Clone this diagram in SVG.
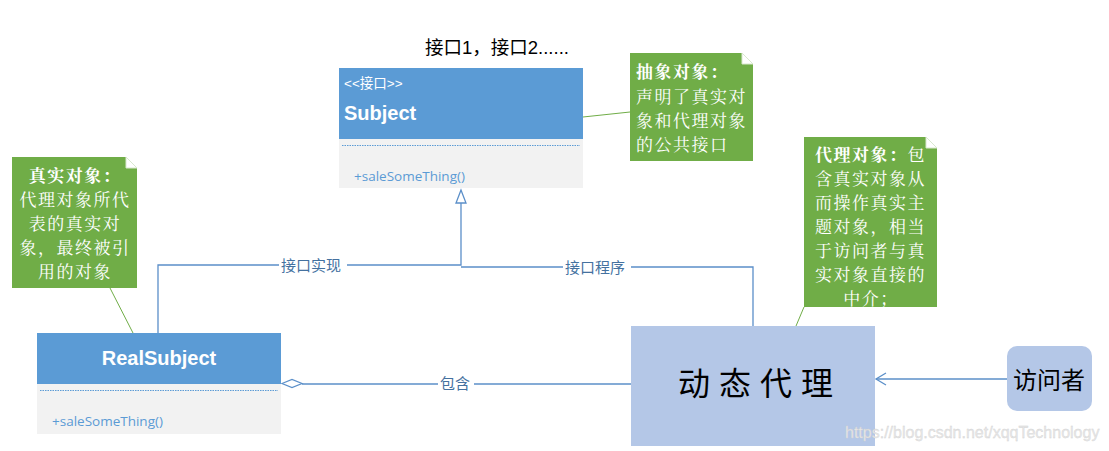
<svg xmlns="http://www.w3.org/2000/svg" width="1109" height="451" viewBox="0 0 1109 451">
<style>
.hdr{fill:#5b9bd5}
.body{fill:#f2f2f2}
.dot{stroke:#5b9bd5;stroke-width:1;stroke-dasharray:1.5 1;fill:none}
.meth{font-family:"Open Sans","Liberation Sans",sans-serif;font-size:13.5px;fill:#5b9bd5}
.wt{fill:#fff;font-family:"Liberation Sans","Noto Sans CJK SC",sans-serif}
.note{fill:#70ad47}
.fold{fill:#fff;stroke:#d9e8cf;stroke-width:1}
.ntxt{font-family:"Noto Serif CJK SC","Noto Sans CJK SC",serif;font-size:17px;letter-spacing:1.5px;fill:#fff}
.conn{stroke:#5b8fc9;stroke-width:1.3;fill:none}
.lbl{font-family:"Noto Sans CJK SC",sans-serif;font-size:15px;fill:#44719f}
.gl{stroke:#70ad47;stroke-width:1;fill:none}
.proxy{fill:#b4c7e7}
</style>
<rect width="1109" height="451" fill="#fff"/>
<text x="425" y="54" font-family="Liberation Sans,Noto Sans CJK SC,sans-serif" font-size="18.5" fill="#000">接口1，接口2......</text>

<g id="connectors">
<polyline class="conn" points="158,333 158,265 461,265 461,203"/>
<polyline class="conn" points="753,326 753,267 461,267"/>
<polygon points="461,190 456,203 466,203" fill="#fff" stroke="#5b8fc9" stroke-width="1.3"/>
<rect x="279" y="256" width="68" height="18" fill="#fff"/>
<text class="lbl" x="281" y="271">接口实现</text>
<rect x="563" y="258" width="68" height="18" fill="#fff"/>
<text class="lbl" x="565" y="273">接口程序</text>
<line class="conn" x1="302" y1="384" x2="631" y2="384"/>
<polygon points="282,383.5 292,379.5 302,383.5 292,387.5" fill="#fff" stroke="#5b8fc9" stroke-width="1.2"/>
<rect x="438" y="375" width="36" height="18" fill="#fff"/>
<text class="lbl" x="440" y="389">包含</text>
<line class="conn" x1="1007" y1="379" x2="876" y2="379"/>
<polyline class="conn" points="886,373 876,379 886,385"/>
<line class="gl" x1="583" y1="117" x2="630" y2="112"/>
<line class="gl" x1="110" y1="288" x2="133" y2="333"/>
<line class="gl" x1="804" y1="307" x2="796" y2="326"/>
</g>

<g id="subject">
<rect class="hdr" x="339" y="68" width="244" height="71"/>
<rect class="body" x="339" y="139" width="244" height="49"/>
<line class="dot" x1="342" y1="145.5" x2="580" y2="145.5"/>
<text class="wt" x="344" y="88" font-size="13.5">&lt;&lt;接口&gt;&gt;</text>
<text class="wt" x="344" y="120" font-size="20" font-weight="bold" font-family="Open Sans,Liberation Sans,sans-serif">Subject</text>
<text class="meth" x="354" y="181">+saleSomeThing()</text>
</g>

<g id="realsubject">
<rect class="hdr" x="37" y="333" width="244" height="51"/>
<rect class="body" x="37" y="384" width="244" height="50"/>
<line class="dot" x1="40" y1="390.5" x2="278" y2="390.5"/>
<text class="wt" x="159" y="365" text-anchor="middle" font-size="20" font-weight="bold" font-family="Open Sans,Liberation Sans,sans-serif">RealSubject</text>
<text class="meth" x="52" y="426">+saleSomeThing()</text>
</g>

<g id="note-abstract">
<path class="note" d="M630,53 H742 L753,64 V161 H630 Z"/>
<path class="fold" d="M742,53 L753,64 H742 Z"/>
<text class="ntxt" x="636" y="78" font-weight="bold">抽象对象：</text>
<text class="ntxt" x="636" y="103">声明了真实对</text>
<text class="ntxt" x="636" y="127">象和代理对象</text>
<text class="ntxt" x="636" y="151">的公共接口</text>
</g>

<g id="note-real">
<path class="note" d="M12,157 H126 L137,168 V288 H12 Z"/>
<path class="fold" d="M126,157 L137,168 H126 Z"/>
<text class="ntxt" x="75" y="182" text-anchor="middle" font-weight="bold">真实对象：</text>
<text class="ntxt" x="75" y="206" text-anchor="middle">代理对象所代</text>
<text class="ntxt" x="75" y="230" text-anchor="middle">表的真实对</text>
<text class="ntxt" x="75" y="254" text-anchor="middle">象，最终被引</text>
<text class="ntxt" x="75" y="278" text-anchor="middle">用的对象</text>
</g>

<g id="note-proxy">
<path class="note" d="M804,137 H926 L937,148 V307 H804 Z"/>
<path class="fold" d="M926,137 L937,148 H926 Z"/>
<text class="ntxt" x="815" y="161"><tspan font-weight="bold">代理对象：</tspan>包</text>
<text class="ntxt" x="815" y="185">含真实对象从</text>
<text class="ntxt" x="815" y="209">而操作真实主</text>
<text class="ntxt" x="815" y="233">题对象，相当</text>
<text class="ntxt" x="815" y="257">于访问者与真</text>
<text class="ntxt" x="815" y="281">实对象直接的</text>
<text class="ntxt" x="871" y="305" text-anchor="middle">中介；</text>
</g>

<g id="proxy">
<rect class="proxy" x="631" y="326" width="244" height="120"/>
<text x="760" y="395" text-anchor="middle" font-family="Noto Sans CJK SC,sans-serif" font-size="32" letter-spacing="9" fill="#000">动态代理</text>
</g>

<g id="visitor">
<rect class="proxy" x="1007" y="346" width="85" height="65" rx="10"/>
<text x="1049" y="389" text-anchor="middle" font-family="Noto Sans CJK SC,sans-serif" font-size="24" fill="#000">访问者</text>
</g>

<text x="845" y="438" font-family="Liberation Sans,sans-serif" font-size="16" fill="#e8e8e8" stroke="#d0d0d0" stroke-width="0.3">https://blog.csdn.net/xqqTechnology</text>
</svg>
